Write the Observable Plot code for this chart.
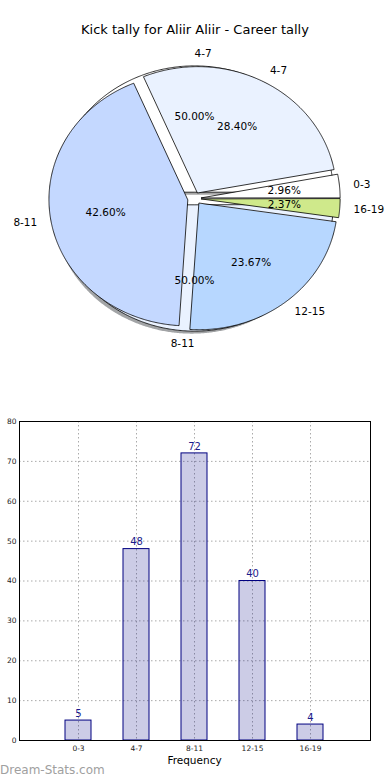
<!DOCTYPE html>
<html><head><meta charset="utf-8">
<script src="https://cdn.jsdelivr.net/npm/d3@7"></script>
<script src="https://cdn.jsdelivr.net/npm/@observablehq/plot@0.6"></script>
<style>
body{margin:0;width:390px;height:780px;position:relative;background:#fff;font-family:"DejaVu Sans",sans-serif;overflow:hidden}
#pie{position:absolute;top:0;left:0}
#bar{position:absolute;top:400px;left:0}
#title{position:absolute;top:23px;left:0;width:390px;text-align:center;font-size:13px;line-height:14px;color:#000}
#xlabel{position:absolute;top:755px;left:0;width:389px;text-align:center;font-size:10.5px;line-height:11px;color:#000}
#wm{position:absolute;left:0;top:764px;font-size:12px;line-height:12px;color:#a0a0a0}
</style></head>
<body>
<div id="pie"></div>
<div id="bar"></div>
<div id="title">Kick tally for Aliir Aliir - Career tally</div>
<div id="xlabel">Frequency</div>
<div id="wm">Dream-Stats.com</div>
<script>
// ---- data ----
const categories = ["0-3", "4-7", "8-11", "12-15", "16-19"];
const counts = [5, 48, 72, 40, 4];
const sliceColors = ["#ffffff", "#eaf2ff", "#c4d8ff", "#b7d7ff", "#cfe98b"];
const backCategories = ["4-7", "8-11"];
const backValues = [1, 1];
const yTicks = [0, 10, 20, 30, 40, 50, 60, 70, 80];

// ---- pie geometry (layout constants) ----
const CX = 194, CY = 198, RX = 138.7, RY = 126.3, EXPLODE = 0.05;

function slices(prefix, cats, values, colors) {
  const total = d3.sum(values);
  let acc = 0;
  return values.map((v, i) => {
    const t1 = acc / total * 360; acc += v; const t2 = acc / total * 360;
    const mid = (t1 + t2) / 2 * Math.PI / 180;
    return {id: prefix + i, cat: cats[i], color: colors[i], t1, t2, mid,
      ox: EXPLODE * Math.cos(mid), oy: EXPLODE * Math.sin(mid),
      pct: (v / total * 100).toFixed(2) + "%"};
  });
}
function outline(s, dx = 0, dy = 0, col) {
  const c = col || s.color;
  const pts = [{id: s.id, color: c, x: s.ox + dx, y: s.oy + dy}];
  const n = Math.max(2, Math.ceil((s.t2 - s.t1) / 0.5));
  for (let k = 0; k <= n; k++) {
    const a = (s.t1 + (s.t2 - s.t1) * k / n) * Math.PI / 180;
    pts.push({id: s.id, color: c, x: s.ox + dx + Math.cos(a), y: s.oy + dy + Math.sin(a)});
  }
  return pts;
}
function shade(hex) {
  const c = d3.rgb(hex);
  return d3.rgb(c.r * 0.3, c.g * 0.3, c.b * 0.3).formatHex();
}

const back = slices("b", backCategories, backValues, sliceColors);
const front = slices("f", categories, counts, sliceColors);
const shadowPts = back.flatMap(s => outline(s, -0.02, -0.02, shade(s.color)));
const backPts = back.flatMap(s => outline(s));
const frontPts = front.flatMap(s => outline(s));

const allSlices = back.concat(front);
const labels = allSlices.map(s => ({
  text: s.cat,
  x: s.ox + 1.1 * Math.cos(s.mid),
  y: s.oy + 1.1 * Math.sin(s.mid)
}));
const pctLabels = allSlices.map(s => ({
  text: s.pct,
  x: s.ox + 0.6 * Math.cos(s.mid),
  y: s.oy + 0.6 * Math.sin(s.mid)
}));

const W = 390, PH = 390;
const pie = Plot.plot({
  width: W, height: PH, margin: 0,
  style: {fontFamily: "DejaVu Sans", background: "transparent"},
  x: {domain: [-CX / RX, (W - CX) / RX], axis: null},
  y: {domain: [-(PH - CY) / RY, CY / RY], axis: null},
  color: {type: "identity"},
  marks: [
    Plot.line(shadowPts, {x: "x", y: "y", z: "id", fill: "color", fillOpacity: 0.5, stroke: "none", curve: "linear-closed"}),
    Plot.line(backPts, {x: "x", y: "y", z: "id", fill: "color", stroke: "#000", strokeWidth: 0.8, curve: "linear-closed"}),
    Plot.line(frontPts, {x: "x", y: "y", z: "id", fill: "color", stroke: "#000", strokeWidth: 0.8, curve: "linear-closed"}),
    Plot.text(labels.filter(d => d.x > 0), {x: "x", y: "y", text: "text", textAnchor: "start", fontSize: 10.5, fill: "#000"}),
    Plot.text(labels.filter(d => d.x <= 0), {x: "x", y: "y", text: "text", textAnchor: "end", fontSize: 10.5, fill: "#000"}),
    Plot.text(pctLabels, {x: "x", y: "y", text: "text", fontSize: 10.5, fill: "#000"})
  ]
});
document.getElementById("pie").appendChild(pie);

// ---- bar chart ----
const barData = categories.map((c, i) => ({cat: c, value: counts[i]}));
const bar = Plot.plot({
  width: W, height: 380,
  marginTop: 21, marginBottom: 40, marginLeft: 19, marginRight: 20,
  style: {fontFamily: "DejaVu Sans", fontSize: "7.5px", color: "#222", background: "transparent"},
  x: {type: "band", domain: categories, paddingInner: 0.55, paddingOuter: 0.775, label: null, tickSize: 0, tickPadding: 5},
  y: {domain: [0, 80], ticks: yTicks, label: null, tickSize: 0, tickPadding: 3},
  marks: [
    Plot.ruleY(yTicks.slice(1, -1), {stroke: "#aaa", strokeWidth: 1, strokeDasharray: "1.5,2.5"}),
    Plot.ruleX(categories, {x: d => d, stroke: "#aaa", strokeWidth: 1, strokeDasharray: "1.5,2.5"}),
    Plot.barY(barData, {x: "cat", y: "value", fill: "#000080", fillOpacity: 0.2, stroke: "#000080", strokeWidth: 1}),
    Plot.text(barData, {x: "cat", y: "value", text: d => String(d.value), dy: -7, fill: "#1a1a8c", fontSize: 10}),
    Plot.frame({stroke: "#000", strokeWidth: 1})
  ]
});
document.getElementById("bar").appendChild(bar);
</script>
</body></html>
